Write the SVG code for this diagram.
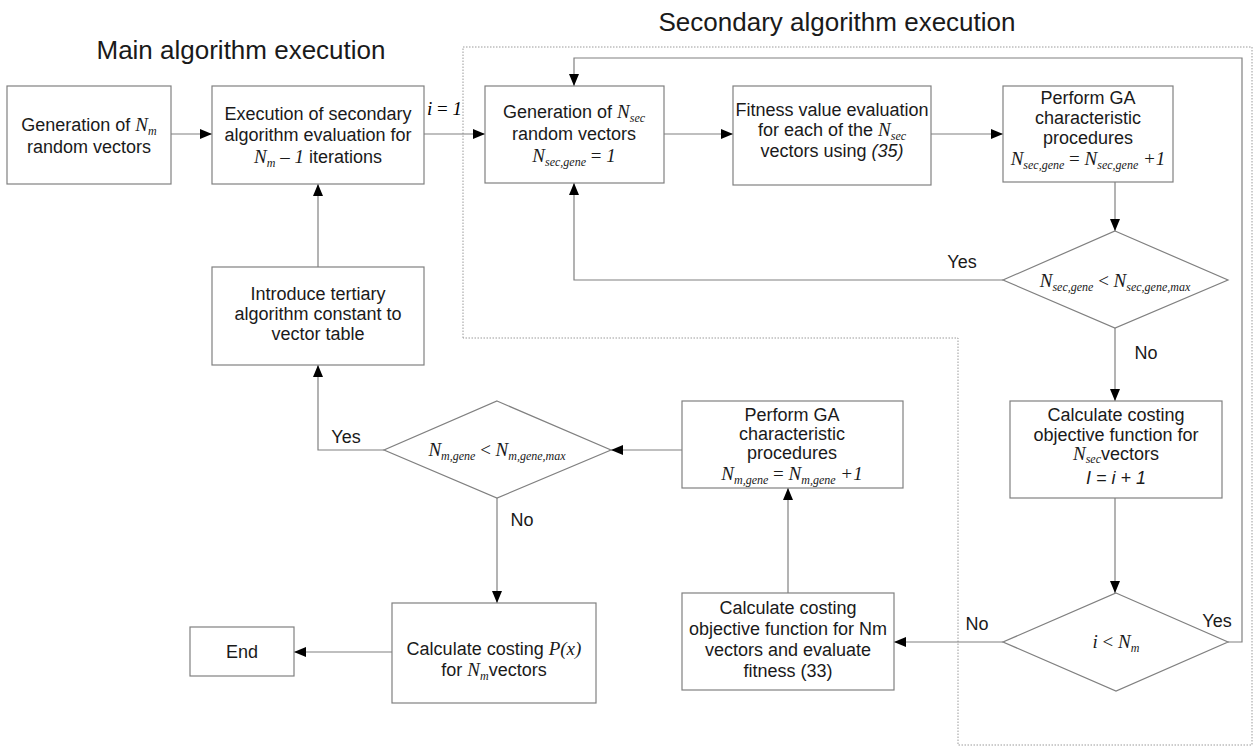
<svg xmlns="http://www.w3.org/2000/svg" width="1255" height="756" viewBox="0 0 1255 756">
<style>
.box{fill:#fff;stroke:#808080;stroke-width:1.2}
.ln{fill:none;stroke:#808080;stroke-width:1.2}
.dot{fill:none;stroke:#9a9a9a;stroke-width:1;stroke-dasharray:1.5 1.5}
.t{font-family:'Liberation Sans',Arial,sans-serif;font-size:18px;fill:#1a1a1a;text-anchor:middle}
.title{font-family:'Liberation Sans',Arial,sans-serif;font-size:26px;fill:#1a1a1a;text-anchor:middle}
.m{font-family:'Liberation Serif','Times New Roman',serif;font-style:italic;font-size:19px}
.mu{font-family:'Liberation Serif','Times New Roman',serif;font-style:normal;font-size:19px}
.it{font-style:italic}
.s{font-size:12px}
</style>
<defs>
<marker id="ah" markerWidth="12" markerHeight="10" refX="12" refY="5" orient="auto" markerUnits="userSpaceOnUse">
<path d="M0,0 L12,5 L0,10 z" fill="#000"/>
</marker>
</defs>

<text class="title" x="241" y="59">Main algorithm execution</text>
<text class="title" x="837" y="31">Secondary algorithm execution</text>

<path class="dot" d="M463,338 V47 H1252 V745 H958 V338 Z"/>

<g id="connectors">
<path class="ln" d="M171,134 H212" marker-end="url(#ah)"/>
<path class="ln" d="M424,134 H485" marker-end="url(#ah)"/>
<path class="ln" d="M664,134 H733" marker-end="url(#ah)"/>
<path class="ln" d="M931,134 H1003" marker-end="url(#ah)"/>
<path class="ln" d="M1115,182 V231" marker-end="url(#ah)"/>
<path class="ln" d="M1003,280 H574 V183" marker-end="url(#ah)"/>
<path class="ln" d="M1115,328 V401" marker-end="url(#ah)"/>
<path class="ln" d="M1115,498 V593" marker-end="url(#ah)"/>
<path class="ln" d="M1228,642 H1242 V58 H574 V86" marker-end="url(#ah)"/>
<path class="ln" d="M1003,642 H894" marker-end="url(#ah)"/>
<path class="ln" d="M788,593 V488" marker-end="url(#ah)"/>
<path class="ln" d="M682,450 H611" marker-end="url(#ah)"/>
<path class="ln" d="M384,450 H318 V365" marker-end="url(#ah)"/>
<path class="ln" d="M318,267 V184" marker-end="url(#ah)"/>
<path class="ln" d="M497,498 V603" marker-end="url(#ah)"/>
<path class="ln" d="M392,652 H294" marker-end="url(#ah)"/>
<text class="m" x="427" y="115">i<tspan class="mu"> = </tspan>1</text>
<text class="t" x="962" y="268">Yes</text>
<text class="t" x="1146" y="359">No</text>
<text class="t" x="346" y="443">Yes</text>
<text class="t" x="522" y="526">No</text>
<text class="t" x="977" y="630">No</text>
<text class="t" x="1217" y="627">Yes</text>
</g>

<g id="gen-nm">
<rect class="box" x="7" y="86" width="164" height="98"/>
<text class="t" x="89" y="131">Generation of <tspan class="m">N<tspan class="s" dy="4">m</tspan></tspan></text>
<text class="t" x="89" y="153">random vectors</text>
</g>

<g id="exec-secondary">
<rect class="box" x="212" y="86" width="212" height="98"/>
<text class="t" x="318" y="120">Execution of secondary</text>
<text class="t" x="318" y="141">algorithm evaluation for</text>
<text class="t" x="318" y="163"><tspan class="m">N<tspan class="s" dy="4">m</tspan><tspan dy="-4"> – 1</tspan></tspan> iterations</text>
</g>

<g id="gen-nsec">
<rect class="box" x="485" y="86" width="179" height="97"/>
<text class="t" x="574" y="118">Generation of <tspan class="m">N<tspan class="s" dy="4">sec</tspan></tspan></text>
<text class="t" x="574" y="140">random vectors</text>
<text class="t" x="574" y="162"><tspan class="m">N<tspan class="s" dy="4">sec,gene</tspan><tspan class="mu" dy="-4"> = </tspan>1</tspan></text>
</g>

<g id="fitness">
<rect class="box" x="733" y="86" width="198" height="99"/>
<text class="t" x="832" y="116">Fitness value evaluation</text>
<text class="t" x="832" y="136">for each of the <tspan class="m">N<tspan class="s" dy="4">sec</tspan></tspan></text>
<text class="t" x="832" y="157">vectors using <tspan class="it">(35)</tspan></text>
</g>

<g id="perform-ga-sec">
<rect class="box" x="1003" y="86" width="170" height="96"/>
<text class="t" x="1088" y="104">Perform GA</text>
<text class="t" x="1088" y="124">characteristic</text>
<text class="t" x="1088" y="144">procedures</text>
<text class="t" x="1088" y="165"><tspan class="m">N<tspan class="s" dy="4">sec,gene</tspan><tspan class="mu" dy="-4"> = </tspan>N<tspan class="s" dy="4">sec,gene</tspan><tspan dy="-4"> +1</tspan></tspan></text>
</g>

<g id="dec-nsec">
<polygon class="box" points="1115,231 1228,280 1115,328 1003,280"/>
<text class="t" x="1115" y="287"><tspan class="m">N<tspan class="s" dy="4">sec,gene</tspan><tspan class="mu" dy="-4"> &lt; </tspan>N<tspan class="s" dy="4">sec,gene,max</tspan></tspan></text>
</g>

<g id="calc-nsec">
<rect class="box" x="1010" y="401" width="212" height="97"/>
<text class="t" x="1116" y="421">Calculate costing</text>
<text class="t" x="1116" y="441">objective function for</text>
<text class="t" x="1116" y="460"><tspan class="m">N<tspan class="s" dy="3">sec</tspan></tspan><tspan dy="-3">vectors</tspan></text>
<text class="t it" x="1116" y="484">I = i + 1</text>
</g>

<g id="dec-i">
<polygon class="box" points="1116,593 1228,642 1116,691 1003,642"/>
<text class="t" x="1116" y="648"><tspan class="m">i<tspan class="mu"> &lt; </tspan>N<tspan class="s" dy="4">m</tspan></tspan></text>
</g>

<g id="calc-nm">
<rect class="box" x="682" y="593" width="212" height="97"/>
<text class="t" x="788" y="614">Calculate costing</text>
<text class="t" x="788" y="635">objective function for Nm</text>
<text class="t" x="788" y="656">vectors and evaluate</text>
<text class="t" x="788" y="677">fitness (33)</text>
</g>

<g id="perform-ga-main">
<rect class="box" x="682" y="401" width="221" height="87"/>
<text class="t" x="792" y="421">Perform GA</text>
<text class="t" x="792" y="440">characteristic</text>
<text class="t" x="792" y="459">procedures</text>
<text class="t" x="792" y="480"><tspan class="m">N<tspan class="s" dy="4">m,gene</tspan><tspan class="mu" dy="-4"> = </tspan>N<tspan class="s" dy="4">m,gene</tspan><tspan dy="-4"> +1</tspan></tspan></text>
</g>

<g id="dec-nm">
<polygon class="box" points="497,401 611,450 497,498 384,450"/>
<text class="t" x="497" y="456"><tspan class="m">N<tspan class="s" dy="4">m,gene</tspan><tspan class="mu" dy="-4"> &lt; </tspan>N<tspan class="s" dy="4">m,gene,max</tspan></tspan></text>
</g>

<g id="introduce">
<rect class="box" x="212" y="267" width="212" height="98"/>
<text class="t" x="318" y="300">Introduce tertiary</text>
<text class="t" x="318" y="320">algorithm constant to</text>
<text class="t" x="318" y="340">vector table</text>
</g>

<g id="calc-px">
<rect class="box" x="392" y="603" width="204" height="100"/>
<text class="t" x="494" y="655">Calculate costing <tspan class="m">P(x)</tspan></text>
<text class="t" x="494" y="676">for <tspan class="m">N<tspan class="s" dy="4">m</tspan></tspan><tspan dy="-4">vectors</tspan></text>
</g>

<g id="end">
<rect class="box" x="190" y="627" width="104" height="49"/>
<text class="t" x="242" y="658">End</text>
</g>
</svg>
